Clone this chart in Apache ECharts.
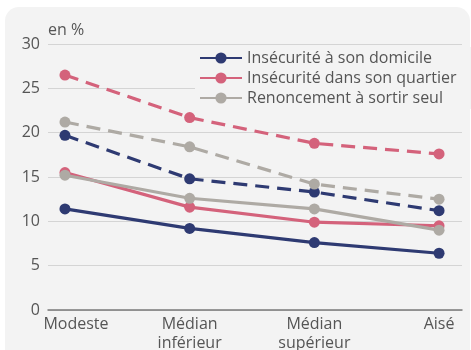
<!DOCTYPE html>
<html>
<head>
<meta charset="utf-8">
<script src="https://cdn.jsdelivr.net/npm/echarts@6/dist/echarts.min.js"></script>
<style>
html,body{margin:0;padding:0;background:#ffffff;}
#chart{width:471px;height:350px;}
</style>
</head>
<body>
<div id="chart"></div>
<script>
const categories = ['Modeste', 'Médian\ninférieur', 'Médian\nsupérieur', 'Aisé'];
const yTicks = [0, 5, 10, 15, 20, 25, 30];
const domicileSolid = [11.4, 9.2, 7.6, 6.4];
const quartierSolid = [15.5, 11.6, 9.9, 9.5];
const renoncementSolid = [15.2, 12.6, 11.4, 9.0];
const domicileDashed = [19.7, 14.8, 13.3, 11.2];
const quartierDashed = [26.5, 21.7, 18.8, 17.6];
const renoncementDashed = [21.2, 18.4, 14.2, 12.5];
const seriesNames = ['Insécurité à son domicile', 'Insécurité dans son quartier', 'Renoncement à sortir seul'];

const colors = ['#2e3a72', '#d4627b', '#aeaaa4'];
const toPairs = arr => arr.map((v, i) => [i, v]);

function mk(name, data, color, dashed) {
  return {
    name: name,
    type: 'line',
    data: toPairs(data),
    symbol: 'circle',
    symbolSize: 11,
    showSymbol: true,
    z: dashed ? 2 : 3,
    itemStyle: { color: color },
    lineStyle: { color: color, width: 3.2, type: dashed ? [14, 8] : 'solid' },
    emphasis: { disabled: true },
    animation: false
  };
}

const chart = echarts.init(document.getElementById('chart'));
chart.setOption({
  animation: false,
  textStyle: { fontFamily: 'Open Sans' },
  graphic: [{
    type: 'rect', z: -10, silent: true,
    shape: { x: 5, y: 7, width: 465, height: 380, r: 14 },
    style: { fill: '#f3f3f3' }
  }],
  grid: { left: 48, right: 9, top: 44, bottom: 40, outerBoundsMode: 'none', containLabel: false },
  legend: {
    data: seriesNames,
    orient: 'vertical',
    left: 195,
    top: 47,
    itemWidth: 42,
    itemHeight: 14,
    itemGap: 4,
    padding: [3, 36, 3, 4],
    backgroundColor: '#f3f3f3',
    textStyle: { fontFamily: 'Open Sans', fontSize: 16, color: '#555555' },
    z: 10
  },
  xAxis: {
    type: 'value',
    min: -0.136,
    max: 3.184,
    splitLine: { show: false },
    axisTick: { show: false },
    axisLine: { onZero: false, lineStyle: { color: '#7a7a7a', width: 1.5 } },
    axisLabel: {
      customValues: [0, 1, 2, 3],
      formatter: v => {
        const i = Math.round(v);
        return i === 0 ? '{first|' + categories[i] + '}' : categories[i];
      },
      rich: {
        first: { padding: [0, 0, 0, 22], fontSize: 16, color: '#555555', fontFamily: 'Open Sans' }
      },
      color: '#555555',
      fontFamily: 'Open Sans',
      fontSize: 16,
      lineHeight: 19,
      margin: 5
    }
  },
  yAxis: {
    type: 'value',
    min: yTicks[0],
    max: yTicks[yTicks.length - 1],
    interval: 5,
    name: 'en %',
    nameLocation: 'end',
    nameGap: 6,
    nameTextStyle: { align: 'left', color: '#555555', fontFamily: 'Open Sans', fontSize: 16 },
    axisLine: { show: false, onZero: false },
    axisTick: { show: false },
    splitLine: { lineStyle: { color: '#d4d4d4', width: 1 } },
    axisLabel: { color: '#555555', fontFamily: 'Open Sans', fontSize: 16, margin: 8 }
  },
  series: [
    mk(seriesNames[0] + ' ', domicileDashed, colors[0], true),
    mk(seriesNames[1] + ' ', quartierDashed, colors[1], true),
    mk(seriesNames[2] + ' ', renoncementDashed, colors[2], true),
    mk(seriesNames[0], domicileSolid, colors[0], false),
    mk(seriesNames[1], quartierSolid, colors[1], false),
    mk(seriesNames[2], renoncementSolid, colors[2], false)
  ]
});
</script>
</body>
</html>
